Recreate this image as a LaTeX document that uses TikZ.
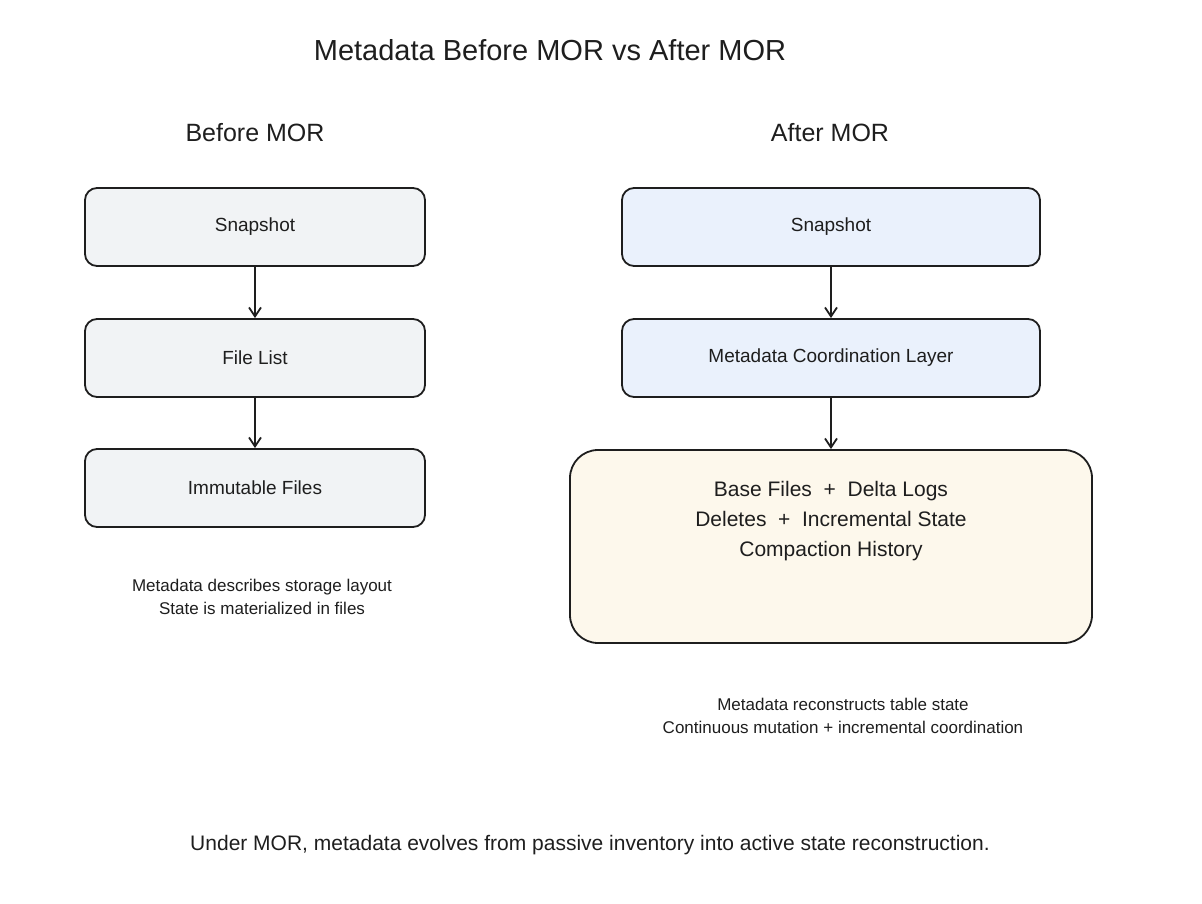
\documentclass[tikz,border=0pt]{standalone}
\usepackage{fontspec}
\setmainfont{Liberation Sans}
\usetikzlibrary{arrows.meta}
\definecolor{grayfill}{HTML}{F1F3F5}
\definecolor{bluefill}{HTML}{EAF1FC}
\definecolor{creamfill}{HTML}{FDF8EC}
\definecolor{ink}{HTML}{1E1E1E}
\tikzset{
  box/.style={draw=ink, line width=1.8pt, rounded corners=12pt, align=center, font=\fontsize{19}{24}\selectfont, text=ink},
  arr/.style={draw=ink, line width=1.8pt, -{Straight Barb[length=9pt,width=12pt]}},
  captext/.style={align=center, font=\fontsize{17}{23}\selectfont, text=ink}
}
\begin{document}
\begin{tikzpicture}[x=1pt,y=-1pt]
\useasboundingbox (0,0) rectangle (1202,904);
\node[font=\fontsize{29}{34}\selectfont, text=ink] (title) at (550,50) {Metadata Before MOR vs After MOR};
\node[font=\fontsize{25}{30}\selectfont, text=ink] (hl) at (255,133) {Before MOR};
\node[font=\fontsize{25}{30}\selectfont, text=ink] (hr) at (830,133) {After MOR};
\node[box, fill=grayfill, minimum width=340pt, minimum height=78pt] (l1) at (255,227) {Snapshot};
\node[box, fill=grayfill, minimum width=340pt, minimum height=78pt] (l2) at (255,358) {File List};
\node[box, fill=grayfill, minimum width=340pt, minimum height=78pt] (l3) at (255,488) {Immutable Files};
\node[box, fill=bluefill, minimum width=418pt, minimum height=78pt] (r1) at (831,227) {Snapshot};
\node[box, fill=bluefill, minimum width=418pt, minimum height=78pt] (r2) at (831,358) {Metadata Coordination Layer};
\node[box, fill=creamfill, minimum width=522pt, minimum height=193pt, rounded corners=28pt] (r3) at (831,546.5) {};
\node[align=center, font=\fontsize{21}{30}\selectfont, text=ink] (r3t) at (831,521) {Base Files \ + \ Delta Logs\\Deletes \ + \ Incremental State\\Compaction History};
\draw[arr] (l1) -- (l2);
\draw[arr] (l2) -- (l3);
\draw[arr] (r1) -- (r2);
\draw[arr] (r2) -- (r3);
\node[captext] (cl) at (262,597) {Metadata describes storage layout\\State is materialized in files};
\node[captext] (cr) at (843,716) {Metadata reconstructs table state\\Continuous mutation + incremental coordination};
\node[font=\fontsize{21}{26}\selectfont, text=ink] (bottom) at (590,845) {Under MOR, metadata evolves from passive inventory into active state reconstruction.};
\end{tikzpicture}
\end{document}
